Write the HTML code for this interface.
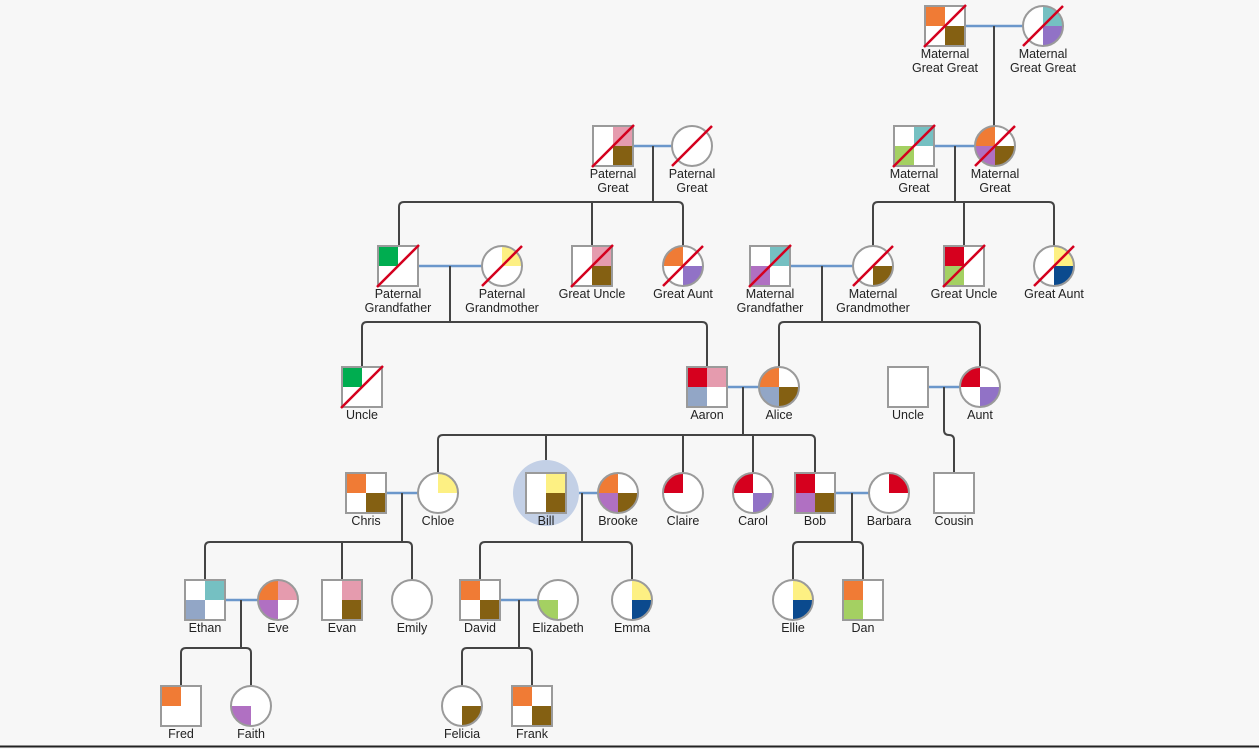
<!DOCTYPE html>
<html><head><meta charset="utf-8"><style>
html,body{margin:0;padding:0;background:#f7f7f7}
svg{display:block}
text{font-family:"Liberation Sans",Arial,sans-serif;font-size:12.5px;fill:#222;text-anchor:middle}
.tl,.tr,.bl,.br{width:20px;height:20px}
.tl{x:-20px;y:-20px}.tr{x:0px;y:-20px}.bl{x:-20px;y:0px}.br{x:0px;y:0px}
.sq{x:-20px;y:-20px;width:40px;height:40px;fill:none;stroke:#9a9a9a;stroke-width:2}
.ci{fill:none;stroke:#9a9a9a;stroke-width:2}
.d{stroke:#d4001e;stroke-width:2.5}
.l{stroke:#444;stroke-width:2;fill:none}
.p{stroke:#6b97cb;stroke-width:2.5}
</style></head><body>
<svg width="1259" height="749" viewBox="0 0 1259 749" xmlns="http://www.w3.org/2000/svg">
<defs><clipPath id="cc"><circle r="19.5"/></clipPath></defs>
<rect width="1259" height="749" fill="#f7f7f7"/>
<line x1="0" y1="746.5" x2="1259" y2="746.5" stroke="#222" stroke-width="2"/>

<line class="p" x1="965" y1="26" x2="1023" y2="26"/>
<line class="p" x1="633" y1="146" x2="672" y2="146"/>
<line class="p" x1="934" y1="146" x2="975" y2="146"/>
<line class="p" x1="418" y1="266" x2="482" y2="266"/>
<line class="p" x1="790" y1="266" x2="853" y2="266"/>
<line class="p" x1="727" y1="387" x2="759" y2="387"/>
<line class="p" x1="928" y1="387" x2="960" y2="387"/>
<line class="p" x1="386" y1="493" x2="418" y2="493"/>
<line class="p" x1="566" y1="493" x2="598" y2="493"/>
<line class="p" x1="835" y1="493" x2="869" y2="493"/>
<line class="p" x1="225" y1="600" x2="258" y2="600"/>
<line class="p" x1="500" y1="600" x2="538" y2="600"/>

<line class="l" x1="994" y1="26" x2="994" y2="126"/>

<line class="l" x1="653" y1="146" x2="653" y2="202"/>
<path class="l" d="M399,246 L399,207 Q399,202 404,202 L678,202 Q683,202 683,207 L683,246"/>
<line class="l" x1="592" y1="202" x2="592" y2="246"/>

<line class="l" x1="955" y1="146" x2="955" y2="202"/>
<path class="l" d="M873,246 L873,207 Q873,202 878,202 L1049,202 Q1054,202 1054,207 L1054,246"/>
<line class="l" x1="964" y1="202" x2="964" y2="246"/>

<line class="l" x1="450" y1="266" x2="450" y2="322"/>
<path class="l" d="M362,367 L362,327 Q362,322 367,322 L702,322 Q707,322 707,327 L707,367"/>

<line class="l" x1="822" y1="266" x2="822" y2="322"/>
<path class="l" d="M779,367 L779,327 Q779,322 784,322 L975,322 Q980,322 980,327 L980,367"/>

<line class="l" x1="743" y1="387" x2="743" y2="435"/>
<path class="l" d="M438,473 L438,440 Q438,435 443,435 L810,435 Q815,435 815,440 L815,473"/>
<line class="l" x1="546" y1="435" x2="546" y2="473"/>
<line class="l" x1="683" y1="435" x2="683" y2="473"/>
<line class="l" x1="753" y1="435" x2="753" y2="473"/>

<path class="l" d="M944,387 L944,430 Q944,435 949,435 Q954,435 954,440 L954,473"/>

<line class="l" x1="402" y1="493" x2="402" y2="542"/>
<path class="l" d="M205,580 L205,547 Q205,542 210,542 L407,542 Q412,542 412,547 L412,580"/>
<line class="l" x1="342" y1="542" x2="342" y2="580"/>

<line class="l" x1="582" y1="493" x2="582" y2="542"/>
<path class="l" d="M480,580 L480,547 Q480,542 485,542 L627,542 Q632,542 632,547 L632,580"/>

<line class="l" x1="852" y1="493" x2="852" y2="542"/>
<path class="l" d="M793,580 L793,547 Q793,542 798,542 L858,542 Q863,542 863,547 L863,580"/>

<line class="l" x1="241" y1="600" x2="241" y2="648"/>
<path class="l" d="M181,686 L181,653 Q181,648 186,648 L246,648 Q251,648 251,653 L251,686"/>

<line class="l" x1="519" y1="600" x2="519" y2="648"/>
<path class="l" d="M462,686 L462,653 Q462,648 467,648 L527,648 Q532,648 532,653 L532,686"/>

<circle cx="546" cy="493" r="33" fill="#c3d0e6"/>

<g transform="translate(945,26)"><rect x="-20" y="-20" width="40" height="40" fill="#fff"/><rect class="tl" fill="#f07b35"/><rect class="br" fill="#846012"/><rect class="sq"/><line class="d" x1="-21" y1="21" x2="21" y2="-21"/><text y="32">Maternal</text><text y="46">Great Great</text></g>
<g transform="translate(1043,26)"><g clip-path="url(#cc)"><rect x="-20" y="-20" width="40" height="40" fill="#fff"/><rect class="tr" fill="#75c0c2"/><rect class="br" fill="#9172c6"/></g><circle class="ci" r="20"/><line class="d" x1="-20" y1="20" x2="20" y2="-20"/><text y="32">Maternal</text><text y="46">Great Great</text></g>

<g transform="translate(613,146)"><rect x="-20" y="-20" width="40" height="40" fill="#fff"/><rect class="tr" fill="#e59bae"/><rect class="br" fill="#846012"/><rect class="sq"/><line class="d" x1="-21" y1="21" x2="21" y2="-21"/><text y="32">Paternal</text><text y="46">Great</text></g>
<g transform="translate(692,146)"><circle r="20" fill="#fff"/><circle class="ci" r="20"/><line class="d" x1="-20" y1="20" x2="20" y2="-20"/><text y="32">Paternal</text><text y="46">Great</text></g>
<g transform="translate(914,146)"><rect x="-20" y="-20" width="40" height="40" fill="#fff"/><rect class="tr" fill="#75c0c2"/><rect class="bl" fill="#a4d062"/><rect class="sq"/><line class="d" x1="-21" y1="21" x2="21" y2="-21"/><text y="32">Maternal</text><text y="46">Great</text></g>
<g transform="translate(995,146)"><g clip-path="url(#cc)"><rect x="-20" y="-20" width="40" height="40" fill="#fff"/><rect class="tl" fill="#f07b35"/><rect class="bl" fill="#b070c2"/><rect class="br" fill="#846012"/></g><circle class="ci" r="20"/><line class="d" x1="-20" y1="20" x2="20" y2="-20"/><text y="32">Maternal</text><text y="46">Great</text></g>

<g transform="translate(398,266)"><rect x="-20" y="-20" width="40" height="40" fill="#fff"/><rect class="tl" fill="#00ad50"/><rect class="sq"/><line class="d" x1="-21" y1="21" x2="21" y2="-21"/><text y="32">Paternal</text><text y="46">Grandfather</text></g>
<g transform="translate(502,266)"><g clip-path="url(#cc)"><rect x="-20" y="-20" width="40" height="40" fill="#fff"/><rect class="tr" fill="#fdf083"/></g><circle class="ci" r="20"/><line class="d" x1="-20" y1="20" x2="20" y2="-20"/><text y="32">Paternal</text><text y="46">Grandmother</text></g>
<g transform="translate(592,266)"><rect x="-20" y="-20" width="40" height="40" fill="#fff"/><rect class="tr" fill="#e59bae"/><rect class="br" fill="#846012"/><rect class="sq"/><line class="d" x1="-21" y1="21" x2="21" y2="-21"/><text y="32">Great Uncle</text></g>
<g transform="translate(683,266)"><g clip-path="url(#cc)"><rect x="-20" y="-20" width="40" height="40" fill="#fff"/><rect class="tl" fill="#f07b35"/><rect class="br" fill="#9172c6"/></g><circle class="ci" r="20"/><line class="d" x1="-20" y1="20" x2="20" y2="-20"/><text y="32">Great Aunt</text></g>
<g transform="translate(770,266)"><rect x="-20" y="-20" width="40" height="40" fill="#fff"/><rect class="tr" fill="#75c0c2"/><rect class="bl" fill="#b070c2"/><rect class="sq"/><line class="d" x1="-21" y1="21" x2="21" y2="-21"/><text y="32">Maternal</text><text y="46">Grandfather</text></g>
<g transform="translate(873,266)"><g clip-path="url(#cc)"><rect x="-20" y="-20" width="40" height="40" fill="#fff"/><rect class="br" fill="#846012"/></g><circle class="ci" r="20"/><line class="d" x1="-20" y1="20" x2="20" y2="-20"/><text y="32">Maternal</text><text y="46">Grandmother</text></g>
<g transform="translate(964,266)"><rect x="-20" y="-20" width="40" height="40" fill="#fff"/><rect class="tl" fill="#d6001e"/><rect class="bl" fill="#a4d062"/><rect class="sq"/><line class="d" x1="-21" y1="21" x2="21" y2="-21"/><text y="32">Great Uncle</text></g>
<g transform="translate(1054,266)"><g clip-path="url(#cc)"><rect x="-20" y="-20" width="40" height="40" fill="#fff"/><rect class="tr" fill="#fdf083"/><rect class="br" fill="#0b4a8e"/></g><circle class="ci" r="20"/><line class="d" x1="-20" y1="20" x2="20" y2="-20"/><text y="32">Great Aunt</text></g>

<g transform="translate(362,387)"><rect x="-20" y="-20" width="40" height="40" fill="#fff"/><rect class="tl" fill="#00ad50"/><rect class="sq"/><line class="d" x1="-21" y1="21" x2="21" y2="-21"/><text y="32">Uncle</text></g>
<g transform="translate(707,387)"><rect x="-20" y="-20" width="40" height="40" fill="#fff"/><rect class="tl" fill="#d6001e"/><rect class="tr" fill="#e59bae"/><rect class="bl" fill="#92a6c6"/><rect class="sq"/><text y="32">Aaron</text></g>
<g transform="translate(779,387)"><g clip-path="url(#cc)"><rect x="-20" y="-20" width="40" height="40" fill="#fff"/><rect class="tl" fill="#f07b35"/><rect class="bl" fill="#92a6c6"/><rect class="br" fill="#846012"/></g><circle class="ci" r="20"/><text y="32">Alice</text></g>
<g transform="translate(908,387)"><rect x="-20" y="-20" width="40" height="40" fill="#fff"/><rect class="sq"/><text y="32">Uncle</text></g>
<g transform="translate(980,387)"><g clip-path="url(#cc)"><rect x="-20" y="-20" width="40" height="40" fill="#fff"/><rect class="tl" fill="#d6001e"/><rect class="br" fill="#9172c6"/></g><circle class="ci" r="20"/><text y="32">Aunt</text></g>

<g transform="translate(366,493)"><rect x="-20" y="-20" width="40" height="40" fill="#fff"/><rect class="tl" fill="#f07b35"/><rect class="br" fill="#846012"/><rect class="sq"/><text y="32">Chris</text></g>
<g transform="translate(438,493)"><g clip-path="url(#cc)"><rect x="-20" y="-20" width="40" height="40" fill="#fff"/><rect class="tr" fill="#fdf083"/></g><circle class="ci" r="20"/><text y="32">Chloe</text></g>
<g transform="translate(546,493)"><rect x="-20" y="-20" width="40" height="40" fill="#fff"/><rect class="tr" fill="#fdf083"/><rect class="br" fill="#846012"/><rect class="sq"/><text y="32">Bill</text></g>
<g transform="translate(618,493)"><g clip-path="url(#cc)"><rect x="-20" y="-20" width="40" height="40" fill="#fff"/><rect class="tl" fill="#f07b35"/><rect class="bl" fill="#b070c2"/><rect class="br" fill="#846012"/></g><circle class="ci" r="20"/><text y="32">Brooke</text></g>
<g transform="translate(683,493)"><g clip-path="url(#cc)"><rect x="-20" y="-20" width="40" height="40" fill="#fff"/><rect class="tl" fill="#d6001e"/></g><circle class="ci" r="20"/><text y="32">Claire</text></g>
<g transform="translate(753,493)"><g clip-path="url(#cc)"><rect x="-20" y="-20" width="40" height="40" fill="#fff"/><rect class="tl" fill="#d6001e"/><rect class="br" fill="#9172c6"/></g><circle class="ci" r="20"/><text y="32">Carol</text></g>
<g transform="translate(815,493)"><rect x="-20" y="-20" width="40" height="40" fill="#fff"/><rect class="tl" fill="#d6001e"/><rect class="bl" fill="#b070c2"/><rect class="br" fill="#846012"/><rect class="sq"/><text y="32">Bob</text></g>
<g transform="translate(889,493)"><g clip-path="url(#cc)"><rect x="-20" y="-20" width="40" height="40" fill="#fff"/><rect class="tr" fill="#d6001e"/></g><circle class="ci" r="20"/><text y="32">Barbara</text></g>
<g transform="translate(954,493)"><rect x="-20" y="-20" width="40" height="40" fill="#fff"/><rect class="sq"/><text y="32">Cousin</text></g>

<g transform="translate(205,600)"><rect x="-20" y="-20" width="40" height="40" fill="#fff"/><rect class="tr" fill="#75c0c2"/><rect class="bl" fill="#92a6c6"/><rect class="sq"/><text y="32">Ethan</text></g>
<g transform="translate(278,600)"><g clip-path="url(#cc)"><rect x="-20" y="-20" width="40" height="40" fill="#fff"/><rect class="tl" fill="#f07b35"/><rect class="tr" fill="#e59bae"/><rect class="bl" fill="#b070c2"/></g><circle class="ci" r="20"/><text y="32">Eve</text></g>
<g transform="translate(342,600)"><rect x="-20" y="-20" width="40" height="40" fill="#fff"/><rect class="tr" fill="#e59bae"/><rect class="br" fill="#846012"/><rect class="sq"/><text y="32">Evan</text></g>
<g transform="translate(412,600)"><circle r="20" fill="#fff"/><circle class="ci" r="20"/><text y="32">Emily</text></g>
<g transform="translate(480,600)"><rect x="-20" y="-20" width="40" height="40" fill="#fff"/><rect class="tl" fill="#f07b35"/><rect class="br" fill="#846012"/><rect class="sq"/><text y="32">David</text></g>
<g transform="translate(558,600)"><g clip-path="url(#cc)"><rect x="-20" y="-20" width="40" height="40" fill="#fff"/><rect class="bl" fill="#a4d062"/></g><circle class="ci" r="20"/><text y="32">Elizabeth</text></g>
<g transform="translate(632,600)"><g clip-path="url(#cc)"><rect x="-20" y="-20" width="40" height="40" fill="#fff"/><rect class="tr" fill="#fdf083"/><rect class="br" fill="#0b4a8e"/></g><circle class="ci" r="20"/><text y="32">Emma</text></g>
<g transform="translate(793,600)"><g clip-path="url(#cc)"><rect x="-20" y="-20" width="40" height="40" fill="#fff"/><rect class="tr" fill="#fdf083"/><rect class="br" fill="#0b4a8e"/></g><circle class="ci" r="20"/><text y="32">Ellie</text></g>
<g transform="translate(863,600)"><rect x="-20" y="-20" width="40" height="40" fill="#fff"/><rect class="tl" fill="#f07b35"/><rect class="bl" fill="#a4d062"/><rect class="sq"/><text y="32">Dan</text></g>

<g transform="translate(181,706)"><rect x="-20" y="-20" width="40" height="40" fill="#fff"/><rect class="tl" fill="#f07b35"/><rect class="sq"/><text y="32">Fred</text></g>
<g transform="translate(251,706)"><g clip-path="url(#cc)"><rect x="-20" y="-20" width="40" height="40" fill="#fff"/><rect class="bl" fill="#b070c2"/></g><circle class="ci" r="20"/><text y="32">Faith</text></g>
<g transform="translate(462,706)"><g clip-path="url(#cc)"><rect x="-20" y="-20" width="40" height="40" fill="#fff"/><rect class="br" fill="#846012"/></g><circle class="ci" r="20"/><text y="32">Felicia</text></g>
<g transform="translate(532,706)"><rect x="-20" y="-20" width="40" height="40" fill="#fff"/><rect class="tl" fill="#f07b35"/><rect class="br" fill="#846012"/><rect class="sq"/><text y="32">Frank</text></g>
</svg>
</body></html>
